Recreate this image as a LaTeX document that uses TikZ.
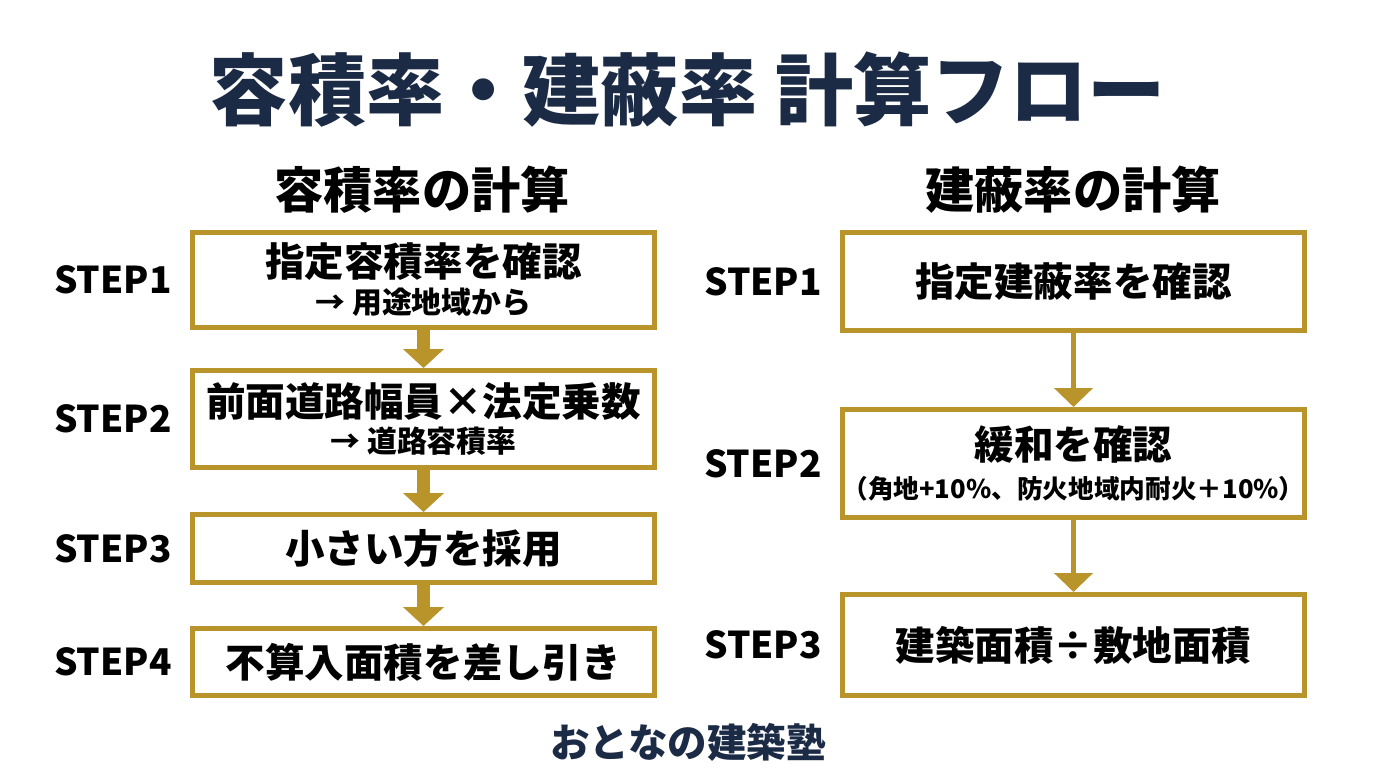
\documentclass[tikz,border=0pt]{standalone}
\usepackage{fontspec}
\setmainfont{Noto Sans CJK JP}
\usepackage{xcolor}
\usepackage{tikz}
\usetikzlibrary{positioning,arrows.meta}

\definecolor{gold}{RGB}{184,148,42}
\definecolor{navy}{RGB}{28,43,69}

\newcommand{\subtxt}{\fontsize{17}{19}\selectfont}
\newcommand{\notetxt}{\fontsize{14.6}{18}\selectfont}

\begin{document}
\begin{tikzpicture}[
    font=\bfseries,
    stepbox/.style={
        draw=gold,
        line width=0.1cm,
        fill=white,
        minimum width=9.24cm,
        align=center,
        inner sep=0pt,
        font=\bfseries\fontsize{22.5}{24}\selectfont
    },
    steplbl/.style={
        inner sep=0pt,
        font=\bfseries\fontsize{21}{24}\selectfont
    },
    heading/.style={
        text=navy,
        inner sep=0pt,
        font=\bfseries\fontsize{44.5}{48}\selectfont
    },
    subhead/.style={
        inner sep=0pt,
        font=\bfseries\fontsize{28}{32}\selectfont
    },
    blockarr/.style={
        draw=gold,
        line width=0.26cm,
        -{Triangle[width=0.8cm,length=0.38cm]}
    },
    linearr/.style={
        draw=gold,
        line width=0.1cm,
        -{Triangle[width=0.76cm,length=0.38cm]}
    }
]
\useasboundingbox[fill=white] (0,0) rectangle (27.52,-15.36);

% titles
\node[heading] (title) at (13.76,-1.8) {容積率・建蔽率 計算フロー};
\node[subhead] (farhead) at (8.44,-3.8) {容積率の計算};
\node[subhead] (bcrhead) at (21.46,-3.8) {建蔽率の計算};

% left column
\node[stepbox, minimum height=1.9cm] (far1) at (8.47,-5.6)
{指定容積率を確認\\[-3pt]{\subtxt → 用途地域から}};
\node[stepbox, minimum height=1.94cm] (far2) at (8.47,-8.38)
{前面道路幅員×法定乗数\\[-3pt]{\subtxt → 道路容積率}};
\node[stepbox, minimum height=1.36cm] (far3) at (8.47,-10.97)
{小さい方を採用};
\node[stepbox, minimum height=1.34cm] (far4) at (8.47,-13.24)
{不算入面積を差し引き};

\node[steplbl, left=0.36cm of far1] (farlbl1) {STEP1};
\node[steplbl, left=0.36cm of far2] (farlbl2) {STEP2};
\node[steplbl, left=0.36cm of far3] (farlbl3) {STEP3};
\node[steplbl, left=0.36cm of far4] (farlbl4) {STEP4};

\draw[blockarr] (far1) -- (far2);
\draw[blockarr] (far2) -- (far3);
\draw[blockarr] (far3) -- (far4);

% right column
\node[stepbox, minimum height=1.96cm] (bcr1) at (21.47,-5.63)
{指定建蔽率を確認};
\node[stepbox, minimum height=2.16cm] (bcr2) at (21.47,-9.27)
{緩和を確認\\[-2pt]{\notetxt （角地+10\%、防火地域内耐火＋10\%）}};
\node[stepbox, minimum height=2.02cm] (bcr3) at (21.47,-12.9)
{建築面積÷敷地面積};

\node[steplbl, left=0.36cm of bcr1] (bcrlbl1) {STEP1};
\node[steplbl, left=0.36cm of bcr2] (bcrlbl2) {STEP2};
\node[steplbl, left=0.36cm of bcr3] (bcrlbl3) {STEP3};

\draw[linearr] (bcr1) -- (bcr2);
\draw[linearr] (bcr2) -- (bcr3);

% footer
\node[heading, font=\bfseries\fontsize{22.5}{26}\selectfont] (footer) at (13.76,-14.84) {おとなの建築塾};

\end{tikzpicture}
\end{document}
